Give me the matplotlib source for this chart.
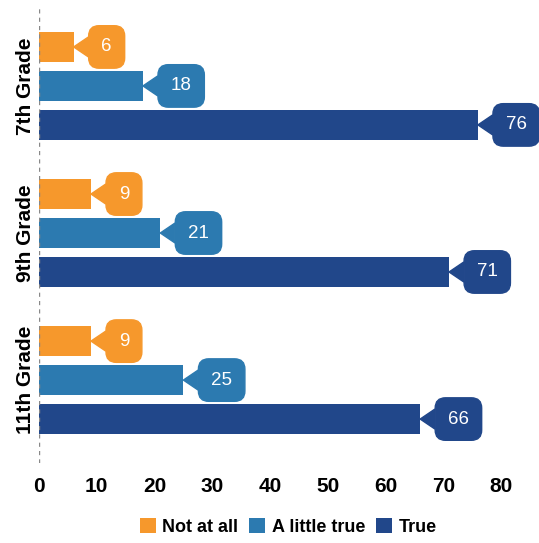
import matplotlib.pyplot as plt
import numpy as np

plt.rcParams['font.family'] = ['Liberation Sans', 'DejaVu Sans']

# données
grades = ["7th Grade", "9th Grade", "11th Grade"]
series = ["Not at all", "A little true", "True"]
not_at_all = [6, 9, 9]
a_little_true = [18, 21, 25]
true_vals = [76, 71, 66]
colors = ["#F6982C", "#2C7AB0", "#21478A"]

fig = plt.figure(figsize=(5.39, 5.43), dpi=100)
ax = fig.add_axes([39 / 539, 0.147, 462 / 539, 0.844])

pos = np.arange(len(grades))
offsets = [-0.265, 0.0, 0.265]
bh = 0.2

for k, vals in enumerate([not_at_all, a_little_true, true_vals]):
    y = pos + offsets[k]
    ax.barh(y, vals, height=bh, color=colors[k], label=series[k])
    # étiquettes en forme de bulle
    for yy, v in zip(y, vals):
        ax.annotate(str(v), xy=(v, yy), xytext=(20, 0), textcoords="offset points",
                    ha="left", va="center", color="white", fontsize=13.5,
                    bbox=dict(boxstyle="round,pad=0.68,rounding_size=0.55", fc=colors[k], ec=colors[k]),
                    arrowprops=dict(arrowstyle="wedge,tail_width=1.05,shrink_factor=0.5",
                                    fc=colors[k], ec=colors[k], shrinkA=0, shrinkB=0),
                    annotation_clip=False)

ax.axvline(0, color="#888888", linestyle=(0, (3, 3)), linewidth=1)

ax.set_xlim(0, 80)
ax.set_ylim(2.565, -0.551)
ax.set_xticks(range(0, 90, 10))
ax.set_yticks(pos)
ax.set_yticklabels(grades, rotation=90, va="center", fontsize=15, fontweight="bold")
ax.tick_params(axis="x", length=0, pad=10, labelsize=15)
ax.tick_params(axis="y", length=0, pad=3)
for lab in ax.get_xticklabels():
    lab.set_fontweight("bold")
for s in ax.spines.values():
    s.set_visible(False)

fig.legend(loc="center", bbox_to_anchor=(288 / 539, 1 - 527 / 543), ncol=3,
           frameon=False, prop={"size": 13, "weight": "bold"},
           handlelength=0.9, handleheight=0.9,
           handletextpad=0.35, columnspacing=0.6)

fig.savefig("out.png", dpi=100)
